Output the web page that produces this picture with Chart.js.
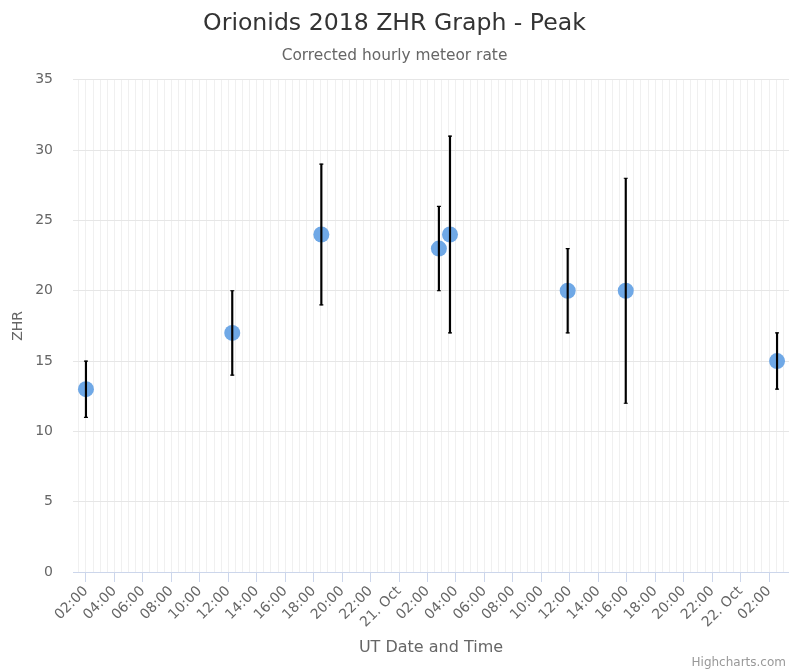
<!DOCTYPE html>
<html>
<head>
<meta charset="utf-8">
<title>Orionids 2018 ZHR Graph - Peak</title>
<script src="https://cdn.jsdelivr.net/npm/chart.js@4.4.1/dist/chart.umd.min.js"></script>
<style>
    body { margin: 0; background: #fff; }
    #wrap { width: 789px; height: 670px; position: relative; }
</style>
</head>
<body>
<div id="wrap"><canvas id="zhr"></canvas></div>
<script>
// hours after 20 Oct 2018 00:00 UT
const obsHours = [2, 12.28, 18.54, 26.8, 27.58, 35.85, 39.93, 50.56];
const zhrValues = [13, 17, 24, 23, 24, 20, 20, 15];
const zhrLow = [11, 14, 19, 20, 17, 17, 12, 13];
const zhrHigh = [15, 20, 29, 26, 31, 23, 28, 17];

const tickHours = [2, 4, 6, 8, 10, 12, 14, 16, 18, 20, 22, 24, 26, 28, 30, 32, 34, 36, 38, 40, 42, 44, 46, 48, 50];
const tickLabels = ['02:00', '04:00', '06:00', '08:00', '10:00', '12:00', '14:00', '16:00', '18:00', '20:00', '22:00', '21. Oct',
    '02:00', '04:00', '06:00', '08:00', '10:00', '12:00', '14:00', '16:00', '18:00', '20:00', '22:00', '22. Oct', '02:00'];

const xMin = 1.09;
const xMax = 51.4;

// minor grid every half hour
const gridHours = [];
for (let k = Math.ceil(xMin * 2); k <= Math.floor(xMax * 2); k++) gridHours.push(k / 2);

const FONT = '"DejaVu Sans", sans-serif';

const credits = {
    id: 'credits',
    afterDraw(chart) {
        const ctx = chart.ctx;
        ctx.save();
        ctx.font = '12px ' + FONT;
        ctx.fillStyle = '#999';
        ctx.textAlign = 'right';
        ctx.textBaseline = 'middle';
        ctx.fillText('Highcharts.com', 786, 663);
        ctx.restore();
    }
};

new Chart(document.getElementById('zhr'), {
    type: 'scatter',
    plugins: [credits],
    data: {
        datasets: [
            {
                label: 'ZHR',
                data: obsHours.map((h, i) => ({x: h, y: zhrValues[i]})),
                backgroundColor: '#6fa8e6',
                borderWidth: 0,
                pointRadius: 8,
                order: 2
            }, {
                type: 'bar',
                label: 'error',
                data: obsHours.map((h, i) => ({x: h, y: [zhrLow[i], zhrHigh[i]]})),
                backgroundColor: '#000',
                borderWidth: 0,
                barThickness: 1.5,
                order: 1
            }, {
                label: 'caps',
                data: obsHours.flatMap((h, i) => [{x: h, y: zhrLow[i]}, {x: h, y: zhrHigh[i]}]),
                pointStyle: 'line',
                pointRadius: 2,
                borderColor: '#000',
                borderWidth: 1.2,
                order: 0
            }
        ]
    },
    options: {
        responsive: true,
        maintainAspectRatio: false,
        animation: false,
        events: [],
        layout: {padding: 0, autoPadding: false},
        plugins: {
            legend: {display: false},
            tooltip: {enabled: false},
            title: {
                display: true,
                text: 'Orionids 2018 ZHR Graph - Peak',
                color: '#333',
                font: {family: FONT, size: 23.6, weight: 'normal'},
                padding: {top: 10, bottom: 8}
            },
            subtitle: {
                display: true,
                text: 'Corrected hourly meteor rate',
                color: '#666',
                font: {family: FONT, size: 15.4},
                padding: {top: 0, bottom: 15}
            }
        },
        scales: {
            x: {
                type: 'linear',
                min: xMin,
                max: xMax,
                offset: false,
                afterBuildTicks: scale => {
                    scale.ticks = gridHours.map(v => ({value: v}));
                },
                afterFit: scale => {
                    scale.height = 98;
                    scale.paddingLeft = 0;
                    scale.paddingRight = 0;
                },
                grid: {
                    offset: false,
                    color: '#f0f0f0',
                    tickLength: 10,
                    tickColor: ctx => tickHours.includes(ctx.tick.value) ? '#ccd6eb' : 'rgba(0,0,0,0)'
                },
                border: {color: '#ccd6eb'},
                ticks: {
                    autoSkip: false,
                    minRotation: 45,
                    maxRotation: 45,
                    padding: 1,
                    color: '#666',
                    font: {family: FONT, size: 14},
                    callback: v => {
                        const i = tickHours.indexOf(v);
                        return i >= 0 ? tickLabels[i] : '';
                    }
                },
                title: {
                    display: true,
                    text: 'UT Date and Time',
                    color: '#666',
                    font: {family: FONT, size: 16},
                    padding: {top: 0, bottom: 13}
                }
            },
            y: {
                min: 0,
                max: 35,
                afterFit: scale => {
                    scale.width = 73;
                },
                grid: {
                    color: '#e6e6e6',
                    drawTicks: false
                },
                border: {display: false},
                ticks: {
                    stepSize: 5,
                    padding: 20,
                    color: '#666',
                    font: {family: FONT, size: 14}
                },
                title: {
                    display: true,
                    text: 'ZHR',
                    color: '#666',
                    font: {family: FONT, size: 14},
                    padding: {top: 10, bottom: 0}
                }
            }
        }
    }
});
</script>
</body>
</html>
